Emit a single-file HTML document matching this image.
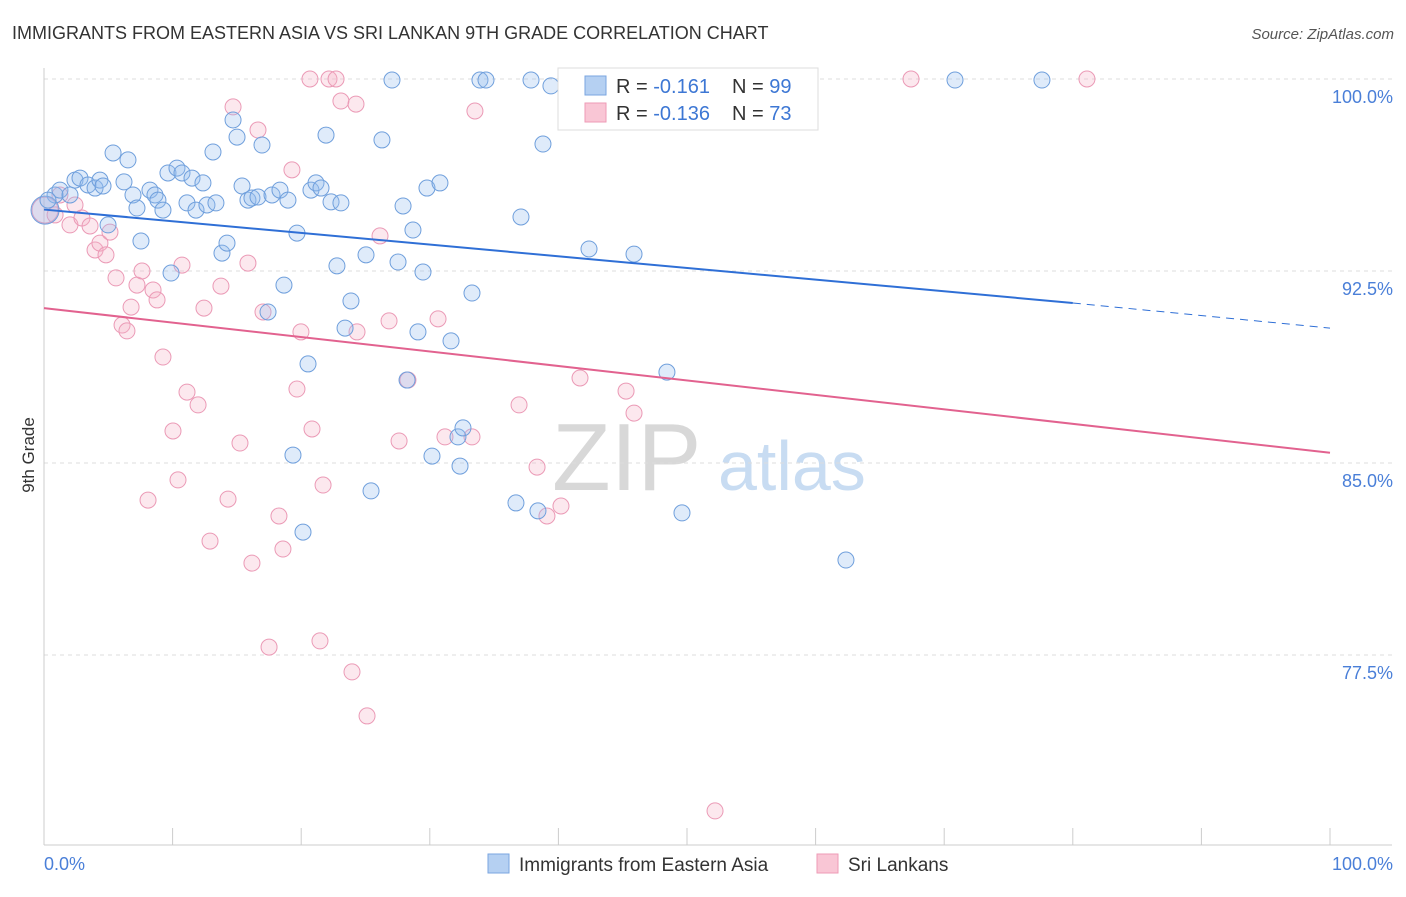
<!DOCTYPE html>
<html><head><meta charset="utf-8"><style>
body{margin:0;background:#fff;font-family:"Liberation Sans",sans-serif;}
svg text{font-family:"Liberation Sans",sans-serif;}
</style></head><body>
<svg id="chart" width="1406" height="892" xmlns="http://www.w3.org/2000/svg">
<text x="12" y="39" font-size="18" fill="#333">IMMIGRANTS FROM EASTERN ASIA VS SRI LANKAN 9TH GRADE CORRELATION CHART</text>
<text x="1394" y="39" font-size="15" fill="#555" text-anchor="end" font-style="italic">Source: ZipAtlas.com</text>
<text x="552" y="490" font-size="96" fill="#d8d8d8" font-family="Liberation Serif">ZIP</text>
<text x="718" y="490" font-size="70" fill="#c8dcf2">atlas</text>
<g id="grid"></g>
<g id="axes"></g>
<g id="points"></g>
<g id="trends"></g>
<text transform="translate(34,455) rotate(-90)" font-size="17" fill="#333" text-anchor="middle">9th Grade</text>
<g>
<rect x="558" y="68" width="260" height="62" fill="#fff" stroke="#ddd"/>
<rect x="585" y="76" width="21" height="19" fill="#b5d0f2" stroke="#7aa6e0"/>
<rect x="585" y="103" width="21" height="19" fill="#f9c6d5" stroke="#ee9bb6"/>
<text x="616" y="93" font-size="20" fill="#333">R = <tspan fill="#3d77d4"> -0.161</tspan></text>
<text x="732" y="93" font-size="20" fill="#333">N = <tspan fill="#3d77d4">99</tspan></text>
<text x="616" y="120" font-size="20" fill="#333">R = <tspan fill="#3d77d4">-0.136</tspan></text>
<text x="732" y="120" font-size="20" fill="#333">N = <tspan fill="#3d77d4">73</tspan></text>
</g>
<g>
<rect x="488" y="854" width="21" height="19" fill="#b5d0f2" stroke="#7aa6e0"/>
<text x="519" y="871" font-size="19" fill="#333">Immigrants from Eastern Asia</text>
<rect x="817" y="854" width="21" height="19" fill="#f9c6d5" stroke="#ee9bb6"/>
<text x="848" y="871" font-size="19" fill="#333">Sri Lankans</text>
</g>
</svg>
<script>
const yTicks=[100,92.5,85,77.5];
const yTickLabels=["100.0%","92.5%","85.0%","77.5%"];
const xEndLabels=["0.0%","100.0%"];
const blueX=[0.86,1.24,2.02,2.41,2.80,3.42,3.97,4.35,4.59,4.98,5.37,6.22,6.53,6.92,7.23,7.54,8.24,8.63,8.86,9.25,9.88,9.64,10.34,10.73,11.12,11.51,11.82,12.36,12.67,13.14,13.37,13.84,14.23,14.70,15.01,15.40,15.86,16.17,16.64,16.95,17.42,17.73,18.35,18.66,18.97,19.67,20.53,20.76,21.15,21.54,21.93,22.32,22.78,23.09,23.41,23.87,25.04,25.43,26.28,27.06,27.53,27.92,28.23,28.69,29.08,29.47,29.78,30.17,30.79,31.65,32.19,32.35,32.58,33.28,33.90,34.37,36.70,37.09,37.87,38.41,38.80,39.42,40.90,42.38,43.00,45.88,48.44,49.61,52.95,62.36,70.84,77.60,19.36,20.14,0.08,0.31];
const blueY=[95.47,95.66,95.47,96.05,96.13,95.86,95.74,96.05,95.82,94.30,97.11,95.98,96.84,95.47,94.96,93.67,95.66,95.47,95.27,94.88,92.42,96.33,96.52,96.33,95.16,96.13,94.88,95.94,95.08,97.15,95.16,93.20,93.59,98.40,97.73,95.82,95.27,95.35,95.39,97.42,90.90,95.47,95.66,91.95,95.27,93.98,88.87,95.66,95.94,95.74,97.81,95.20,92.70,95.16,90.27,91.33,93.13,83.91,97.62,99.96,92.85,95.04,88.24,94.10,90.12,92.46,95.74,85.27,95.94,89.77,86.02,84.88,86.37,91.64,99.96,99.96,83.44,94.61,99.96,83.13,97.46,99.73,100.04,93.36,99.80,93.16,88.55,83.05,99.96,81.21,99.96,99.96,85.31,82.30,94.88,95.27];
const pinkX=[0.08,0.86,1.24,2.02,2.41,2.95,3.58,3.97,4.35,4.82,5.13,5.60,6.07,6.45,6.77,7.23,7.62,8.09,8.48,8.79,9.25,10.03,10.42,10.73,11.12,11.98,12.44,12.91,13.76,14.31,14.70,15.24,15.86,16.17,16.64,17.03,17.50,18.27,18.58,19.28,19.67,19.98,20.68,20.84,21.46,21.70,22.16,22.71,23.09,23.95,24.26,24.34,25.12,26.13,26.83,27.61,28.30,30.64,31.18,33.28,33.51,36.94,38.34,39.11,40.20,41.68,45.26,45.88,52.18,67.42,81.10];
const pinkY=[94.88,94.69,95.47,94.30,95.08,94.57,94.26,93.32,93.59,93.13,94.02,92.23,90.39,90.16,91.09,91.95,92.50,83.55,91.76,91.37,89.14,86.25,84.34,92.73,87.77,87.27,91.05,81.95,91.91,83.59,98.91,85.78,92.81,81.09,98.01,90.90,77.81,82.93,81.64,96.45,87.89,90.12,100,86.33,78.05,84.14,100,100,99.14,76.84,99.02,90.12,75.12,93.87,90.55,85.86,88.24,90.63,86.02,86.02,98.75,87.27,84.84,82.93,83.32,88.32,87.81,86.95,71.41,100,100];
const blueTrend=[94.9,91.25,90.27];
const pinkTrend=[91.05,85.4];

const NS="http://www.w3.org/2000/svg";
const X=v=>44+v*12.86;
const Y=v=>79+(100-v)*25.6;
function mk(tag,attrs,parent){const e=document.createElementNS(NS,tag);for(const k in attrs)e.setAttribute(k,attrs[k]);document.getElementById(parent).appendChild(e);return e;}
yTicks.forEach((t,i)=>{
 const l=mk('line',{x1:44,x2:1392,y1:Y(t),y2:Y(t),stroke:'#ddd','stroke-dasharray':'4,4'},'grid');
 
 
 const tx=mk('text',{x:1393,y:Y(t)+24,'font-size':18,fill:'#4a7fd8','text-anchor':'end'},'grid');
 tx.textContent=yTickLabels[i];
 
 
});
const ax=mk('line',{x1:44,x2:44,y1:68,y2:845,stroke:'#ccc'},'axes');


const bx=mk('line',{x1:44,x2:1392,y1:845,y2:845,stroke:'#ccc'},'axes');


for(let i=0;i<=10;i++){
 const t=mk('line',{x1:X(i*10),x2:X(i*10),y1:828,y2:845,stroke:'#ccc'},'axes');
 
 
}
const l0=mk('text',{x:44,y:870,'font-size':18,fill:'#4a7fd8'},'axes');l0.textContent=xEndLabels[0];


const l1=mk('text',{x:1393,y:870,'font-size':18,fill:'#4a7fd8','text-anchor':'end'},'axes');l1.textContent=xEndLabels[1];


pinkX.forEach((v,i)=>{
 const c=mk('circle',{cx:X(v),cy:Y(pinkY[i]),r:i==0?13:8,fill:'rgba(246,178,200,0.3)',stroke:'#eb9ab6','stroke-width':1},'points');
 
 
});
blueX.forEach((v,i)=>{
 const c=mk('circle',{cx:X(v),cy:Y(blueY[i]),r:i==94?14:8,fill:'rgba(150,190,240,0.3)',stroke:'#6f9fdc','stroke-width':1},'points');
 
 
});
const bt=mk('line',{x1:X(0),y1:Y(blueTrend[0]),x2:X(80),y2:Y(blueTrend[1]),stroke:'#2f6fd6','stroke-width':2},'trends');


const bd=mk('line',{x1:X(80),y1:Y(blueTrend[1]),x2:X(100),y2:Y(blueTrend[2]),stroke:'#2f6fd6','stroke-width':1,'stroke-dasharray':'8,6'},'trends');


const pt=mk('line',{x1:X(0),y1:Y(pinkTrend[0]),x2:X(100),y2:Y(pinkTrend[1]),stroke:'#e2628f','stroke-width':2},'trends');


</script>
</body></html>
